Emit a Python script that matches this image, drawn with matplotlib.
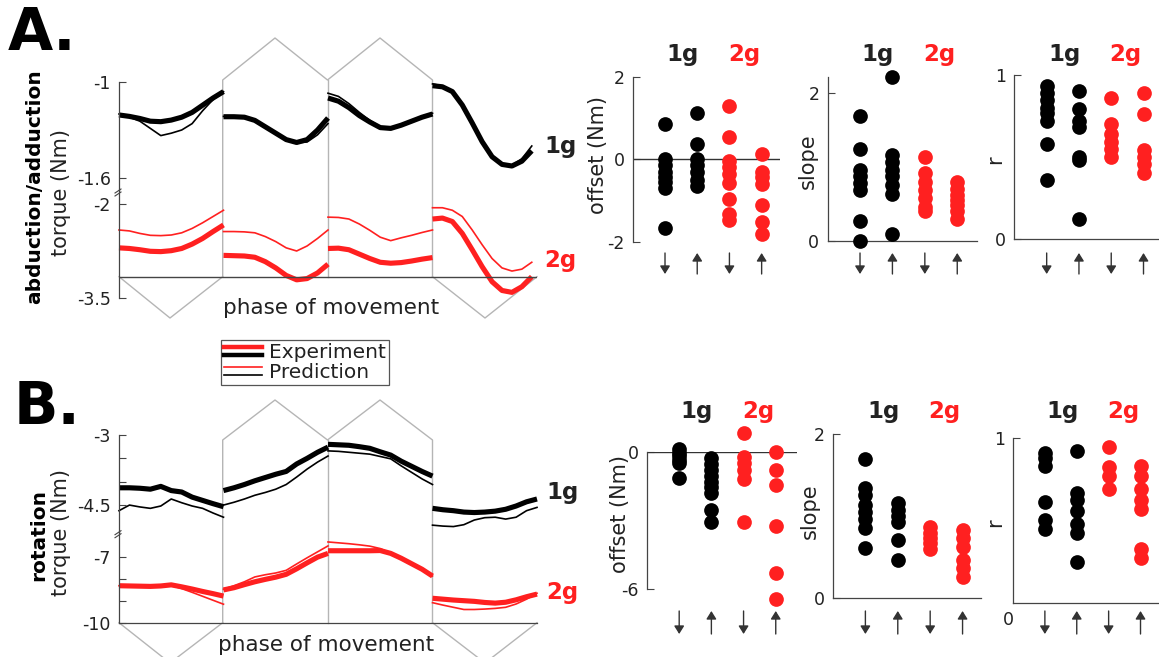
import numpy as np
import matplotlib
matplotlib.use('Agg')
import matplotlib.pyplot as plt
from matplotlib.lines import Line2D
from matplotlib.legend_handler import HandlerBase
from matplotlib.transforms import blended_transform_factory

plt.rcParams['font.family'] = ['DejaVu Sans']
plt.rcParams['axes.unicode_minus'] = False

W, H = 1159, 657
RED = '#ff2020'
GRAY = '#b5b5b5'
AXC = '#444444'
TXT = '#222222'

# ---------------- data ----------------
PHASE = np.linspace(0, 1, 11)          # position within one movement segment
SPAN_A = [1, 1, 1, 0.95]               # fraction of each segment covered by the traces
SPAN_B = [1, 1, 1, 1]

A_1G_EXP = [
    [-1.206, -1.215, -1.228, -1.245, -1.248, -1.238, -1.22, -1.19, -1.145, -1.10, -1.06],
    [-1.217, -1.217, -1.22, -1.24, -1.28, -1.32, -1.36, -1.378, -1.36, -1.30, -1.225],
    [-1.10, -1.12, -1.16, -1.21, -1.25, -1.285, -1.29, -1.27, -1.245, -1.22, -1.20],
    [-1.023, -1.03, -1.06, -1.144, -1.256, -1.373, -1.467, -1.515, -1.525, -1.495, -1.43]]
A_1G_PRED = [
    [-1.20, -1.22, -1.245, -1.29, -1.335, -1.32, -1.30, -1.26, -1.18, -1.11, -1.06],
    [-1.215, -1.217, -1.222, -1.245, -1.285, -1.325, -1.365, -1.38, -1.375, -1.33, -1.26],
    [-1.07, -1.09, -1.135, -1.19, -1.24, -1.28, -1.29, -1.27, -1.245, -1.215, -1.195],
    [-1.012, -1.025, -1.065, -1.15, -1.26, -1.375, -1.465, -1.51, -1.52, -1.48, -1.40]]
A_2G_EXP = [
    [-2.70, -2.71, -2.73, -2.755, -2.76, -2.745, -2.71, -2.64, -2.55, -2.44, -2.335],
    [-2.82, -2.825, -2.83, -2.85, -2.92, -3.02, -3.14, -3.21, -3.19, -3.10, -2.96],
    [-2.71, -2.705, -2.73, -2.80, -2.87, -2.93, -2.945, -2.935, -2.91, -2.88, -2.855],
    [-2.24, -2.225, -2.28, -2.47, -2.73, -3.0, -3.24, -3.38, -3.41, -3.32, -3.16]]
A_2G_PRED = [
    [-2.415, -2.43, -2.47, -2.50, -2.505, -2.495, -2.46, -2.39, -2.30, -2.20, -2.10],
    [-2.44, -2.44, -2.445, -2.46, -2.52, -2.60, -2.70, -2.75, -2.67, -2.55, -2.415],
    [-2.21, -2.215, -2.24, -2.32, -2.42, -2.53, -2.585, -2.54, -2.50, -2.455, -2.415],
    [-2.06, -2.06, -2.10, -2.20, -2.415, -2.65, -2.87, -3.02, -3.07, -3.04, -2.93]]

B_1G_EXP = [
    [-4.13, -4.13, -4.14, -4.16, -4.10, -4.19, -4.22, -4.33, -4.40, -4.47, -4.535],
    [-4.19, -4.13, -4.06, -3.98, -3.91, -3.84, -3.78, -3.62, -3.50, -3.37, -3.26],
    [-3.20, -3.21, -3.22, -3.25, -3.285, -3.36, -3.43, -3.56, -3.67, -3.78, -3.88],
    [-4.57, -4.60, -4.62, -4.65, -4.66, -4.65, -4.63, -4.59, -4.52, -4.43, -4.37]]
B_1G_PRED = [
    [-4.62, -4.50, -4.54, -4.57, -4.52, -4.37, -4.45, -4.52, -4.57, -4.67, -4.76],
    [-4.50, -4.44, -4.37, -4.29, -4.23, -4.16, -4.06, -3.90, -3.73, -3.58, -3.45],
    [-3.34, -3.35, -3.37, -3.39, -3.41, -3.46, -3.51, -3.66, -3.80, -3.94, -4.06],
    [-4.93, -4.95, -4.96, -4.92, -4.82, -4.77, -4.76, -4.80, -4.76, -4.62, -4.55]]
B_2G_EXP = [
    [-8.32, -8.33, -8.34, -8.35, -8.33, -8.28, -8.37, -8.47, -8.58, -8.68, -8.79],
    [-8.51, -8.41, -8.27, -8.14, -8.03, -7.93, -7.80, -7.55, -7.28, -7.02, -6.85],
    [-6.73, -6.73, -6.73, -6.73, -6.73, -6.72, -6.85, -7.07, -7.32, -7.57, -7.88],
    [-8.89, -8.93, -8.97, -9.00, -9.03, -9.08, -9.11, -9.07, -8.96, -8.82, -8.70]]
B_2G_PRED = [
    [-8.32, -8.33, -8.34, -8.35, -8.33, -8.30, -8.45, -8.62, -8.80, -8.98, -9.16],
    [-8.48, -8.32, -8.14, -7.92, -7.82, -7.74, -7.62, -7.33, -7.05, -6.78, -6.51],
    [-6.33, -6.37, -6.41, -6.46, -6.52, -6.63, -6.85, -7.07, -7.32, -7.57, -7.88],
    [-9.09, -9.20, -9.30, -9.40, -9.40, -9.38, -9.35, -9.30, -9.15, -8.93, -8.66]]

# scatter columns: 1g down, 1g up, 2g down, 2g up
A_OFFSET = [[0.86, 0.0, -0.15, -0.3, -0.42, -0.55, -0.7, -1.66],
            [1.13, 0.37, 0.0, -0.15, -0.32, -0.5, -0.66],
            [1.28, 0.53, -0.05, -0.2, -0.35, -0.58, -0.97, -1.33, -1.47],
            [0.13, -0.3, -0.44, -0.6, -1.12, -1.53, -1.82]]
A_SLOPE = [[1.69, 1.24, 0.96, 0.87, 0.78, 0.69, 0.27, 0.0],
           [2.21, 1.16, 1.07, 0.96, 0.87, 0.76, 0.64, 0.09],
           [1.13, 0.91, 0.8, 0.69, 0.58, 0.46, 0.41],
           [0.79, 0.7, 0.62, 0.55, 0.48, 0.4, 0.3]]
A_R = [[0.93, 0.89, 0.85, 0.80, 0.77, 0.72, 0.58, 0.36],
       [0.9, 0.79, 0.72, 0.68, 0.50, 0.48, 0.12],
       [0.86, 0.70, 0.64, 0.59, 0.55, 0.50],
       [0.89, 0.76, 0.54, 0.50, 0.46, 0.40]]
B_OFFSET = [[0.1, -0.05, -0.2, -0.35, -0.5, -1.16],
            [-0.29, -0.55, -0.8, -1.05, -1.3, -1.55, -1.8, -2.54, -3.05],
            [0.8, -0.22, -0.51, -0.8, -1.2, -3.05],
            [-0.03, -0.8, -1.45, -3.23, -5.28, -6.42]]
B_SLOPE = [[1.70, 1.34, 1.26, 1.14, 1.05, 0.97, 0.85, 0.61],
           [1.16, 1.08, 1.0, 0.93, 0.71, 0.47],
           [0.87, 0.8, 0.74, 0.67, 0.6],
           [0.83, 0.73, 0.63, 0.47, 0.37, 0.26]]
B_R = [[0.92, 0.89, 0.85, 0.65, 0.55, 0.50],
       [0.93, 0.70, 0.66, 0.60, 0.53, 0.48, 0.32],
       [0.95, 0.84, 0.79, 0.72],
       [0.85, 0.79, 0.72, 0.66, 0.61, 0.39, 0.34]]
COL_COLORS = ['black', 'black', RED, RED]
COL_DIRS = ['down', 'up', 'down', 'up']

# ---------------- figure ----------------
fig = plt.figure(figsize=(W / 100, H / 100), dpi=100)
ov = fig.add_axes([0, 0, 1, 1])
ov.set_xlim(0, W)
ov.set_ylim(H, 0)
ov.axis('off')
ov.set_zorder(0)


def px_axes(x0, y0, x1, y1):
    ax = fig.add_axes([x0 / W, 1 - y1 / H, (x1 - x0) / W, (y1 - y0) / H])
    ax.patch.set_alpha(0)
    ax.set_zorder(2)
    return ax


def ftext(x, y, s, **kw):
    kw.setdefault('color', TXT)
    fig.text(x / W, 1 - y / H, s, **kw)


def style_axes(ax, spines=('left',)):
    for k, sp in ax.spines.items():
        sp.set_visible(k in spines)
        sp.set_color(AXC)
        sp.set_linewidth(0.9)
    ax.set_xticks([])
    ax.tick_params(axis='y', direction='in', length=5, width=0.8, color=AXC,
                   labelsize=12.5, labelcolor=TXT, pad=6)


# ---- trace panels ----
X0, X1 = 119, 537


def trace_panel(ytop, ybrk, ybot, lim_t, lim_b, ticks_t, lab_t, ticks_b, lab_b,
                e1, p1, e2, p2, spans, show_bottom):
    at = px_axes(X0, ytop, X1, ybrk)
    ab = px_axes(X0, ybrk, X1, ybot)
    for ax, lim in ((at, lim_t), (ab, lim_b)):
        ax.set_xlim(0, 4)
        ax.set_ylim(*lim)
        style_axes(ax, ('left', 'bottom') if (ax is ab and show_bottom) else ('left',))
    at.set_yticks(ticks_t, lab_t)
    ab.set_yticks(ticks_b, lab_b)
    for k in range(4):
        x = k + PHASE * spans[k]
        at.plot(x, e1[k], color='black', lw=3.7, solid_capstyle='butt', clip_on=False)
        at.plot(x, p1[k], color='black', lw=1.2, clip_on=False)
        ab.plot(x, e2[k], color=RED, lw=3.7, solid_capstyle='butt', clip_on=False)
        ab.plot(x, p2[k], color=RED, lw=1.2, clip_on=False)
    return at, ab


# Panel A
atA, abA = trace_panel(82, 190, 298, (-1.675, -1.0), (-3.5, -1.777),
                       [-1.6, -1.0], ['-1.6', '-1'], [-3.5, -2.0], ['-3.5', '-2'],
                       A_1G_EXP, A_1G_PRED, A_2G_EXP, A_2G_PRED, SPAN_A, False)
abA.axhline(-3.16, color=AXC, lw=1.0)
# Panel B
atB, abB = trace_panel(435, 531.7, 622.7, (-5.07, -3.0), (-10.0, -5.864),
                       [-4.5, -4.0, -3.5, -3.0], ['-4.5', '', '', '-3'],
                       [-10, -9, -8, -7], ['-10', '', '', '-7'],
                       B_1G_EXP, B_1G_PRED, B_2G_EXP, B_2G_PRED, SPAN_B, True)

# movement-phase schematic (decoration)
seg = [119, 222.7, 327.5, 432.5, 537]
for (ybase, ytopv, ypeak, yv) in ((276.7, 80, 38, 318), (622.7, 440, 400, 663)):
    ov.plot([seg[1], seg[1], 275, seg[2], 380, seg[3], seg[3]],
            [ybase, ytopv, ypeak, ytopv, ypeak, ytopv, ybase], color=GRAY, lw=1.0)
    ov.plot([seg[2], seg[2]], [ytopv, ybase], color=GRAY, lw=1.0)
    ov.plot([seg[0], 170, seg[1]], [ybase, yv, ybase], color=GRAY, lw=1.0)
    ov.plot([seg[3], 485, seg[4]], [ybase, yv, ybase], color=GRAY, lw=1.0)
# axis break marks
for yb in (190, 531.7):
    ov.plot([115, 121], [yb + 3, yb - 1], color=AXC, lw=0.8)
    ov.plot([115, 121], [yb + 6, yb + 2], color=AXC, lw=0.8)

# ---- scatter panels ----
def scatter_panel(box, ylim, yticks, ylabels, data, spines, zero_line, arrow_y, header_y):
    x0, y0, x1, y1, xmax = box
    ax = px_axes(x0, y0, x1, y1)
    ax.set_xlim(0, xmax)
    ax.set_ylim(*ylim)
    style_axes(ax, spines)
    ax.set_yticks(yticks, ylabels)
    if zero_line:
        ax.axhline(0, color='#333333', lw=1.0)
    for i, vals in enumerate(data):
        ax.scatter(np.full(len(vals), i + 1), vals, s=112, c=COL_COLORS[i],
                   linewidths=0, clip_on=False, zorder=3)
    tr = blended_transform_factory(ax.transData, ov.transData)
    for i, d in enumerate(COL_DIRS):
        ya, yb = arrow_y
        head, tail = (yb, ya) if d == 'down' else (ya, yb)
        ax.annotate('', xy=(i + 1, head), xytext=(i + 1, tail), xycoords=tr, textcoords=tr,
                    arrowprops=dict(arrowstyle='-|>,head_length=0.4,head_width=0.25',
                                    color='#333333', lw=1.0,
                                    mutation_scale=12, shrinkA=0, shrinkB=0),
                    annotation_clip=False)
    ax.text(1.55, header_y, '1g', transform=tr, ha='center', va='center',
            fontsize=16.5, fontweight='bold', color=TXT)
    ax.text(3.45, header_y, '2g', transform=tr, ha='center', va='center',
            fontsize=16.5, fontweight='bold', color=RED)
    return ax


scatter_panel((632.8, 76.7, 780, 241.7, 4.57), (-2, 2), [-2, 0, 2], ['-2', '0', '2'],
              A_OFFSET, ('left',), True, (253, 274), 55)
scatter_panel((827.6, 76.7, 976.7, 241, 4.6), (0, 2.214), [0, 2], ['0', '2'],
              A_SLOPE, ('left', 'bottom'), False, (253, 274), 55)
scatter_panel((1014.4, 75, 1159, 239, 4.48), (0, 1), [0, 1], ['0', '1'],
              A_R, ('left', 'bottom'), False, (253, 274), 55)
scatter_panel((647, 451.7, 797, 589.3, 4.66), (-6, 0), [-6, 0], ['-6', '0'],
              B_OFFSET, ('left',), True, (611, 634), 411.7)
scatter_panel((833, 434, 980.7, 598.3, 4.56), (0, 2), [0, 2], ['0', '2'],
              B_SLOPE, ('left', 'bottom'), False, (611, 634), 411.7)
axBr = scatter_panel((1013, 438.3, 1159, 603.3, 4.58), (0.092, 1), [1], ['1'],
                     B_R, ('left', 'bottom'), False, (611, 634), 411.7)
ftext(1008, 620, '0', fontsize=12.5, ha='center', va='center')

# ---- texts ----
ftext(8, 34, 'A.', fontsize=42, fontweight='bold', ha='left', va='center', color='black')
ftext(14, 407, 'B.', fontsize=42, fontweight='bold', ha='left', va='center', color='black')
ftext(35, 187, 'abduction/adduction', fontsize=14.5, fontweight='bold', rotation=90,
      ha='center', va='center', color='black')
ftext(61, 192, 'torque (Nm)', fontsize=15, rotation=90, ha='center', va='center')
ftext(39, 535, 'rotation', fontsize=14.5, fontweight='bold', rotation=90,
      ha='center', va='center', color='black')
ftext(61, 532, 'torque (Nm)', fontsize=15, rotation=90, ha='center', va='center')
ftext(331, 308, 'phase of movement', fontsize=15.5, ha='center', va='center')
ftext(326, 645, 'phase of movement', fontsize=15.5, ha='center', va='center')
ftext(544, 147, '1g', fontsize=16.5, fontweight='bold', ha='left', va='center')
ftext(544, 260, '2g', fontsize=16.5, fontweight='bold', ha='left', va='center', color=RED)
ftext(546, 493, '1g', fontsize=16.5, fontweight='bold', ha='left', va='center')
ftext(546, 593, '2g', fontsize=16.5, fontweight='bold', ha='left', va='center', color=RED)
ftext(598, 155, 'offset (Nm)', fontsize=15, rotation=90, ha='center', va='center')
ftext(620, 514, 'offset (Nm)', fontsize=15, rotation=90, ha='center', va='center')
ftext(808, 161, 'slope', fontsize=15, rotation=90, ha='center', va='center')
ftext(810, 511, 'slope', fontsize=15, rotation=90, ha='center', va='center')
ftext(995, 160, 'r', fontsize=15, rotation=90, ha='center', va='center')
ftext(995, 523, 'r', fontsize=15, rotation=90, ha='center', va='center')


# ---- legend ----
class Pair:
    def __init__(self, lw):
        self.lw = lw


class PairHandler(HandlerBase):
    def create_artists(self, legend, orig_handle, xdescent, ydescent, width, height,
                       fontsize, trans):
        x = [-xdescent, -xdescent + width]
        l1 = Line2D(x, [height * 0.78] * 2, color=RED, lw=orig_handle.lw)
        l2 = Line2D(x, [height * 0.22] * 2, color='black', lw=orig_handle.lw)
        l1.set_transform(trans)
        l2.set_transform(trans)
        return [l1, l2]


leg = fig.legend([Pair(3.2), Pair(1.2)], ['Experiment', 'Prediction'],
                 handler_map={Pair: PairHandler()}, loc='upper left',
                 bbox_to_anchor=(221 / W, 1 - 340 / H), fontsize=14.5, frameon=True,
                 fancybox=False, edgecolor='#555555', framealpha=1,
                 handlelength=1.9, handletextpad=0.35, labelspacing=0.05,
                 borderpad=0.15, borderaxespad=0.0)
leg.get_frame().set_linewidth(0.9)
for t in leg.get_texts():
    t.set_color(TXT)

fig.savefig('out.png', dpi=100)
